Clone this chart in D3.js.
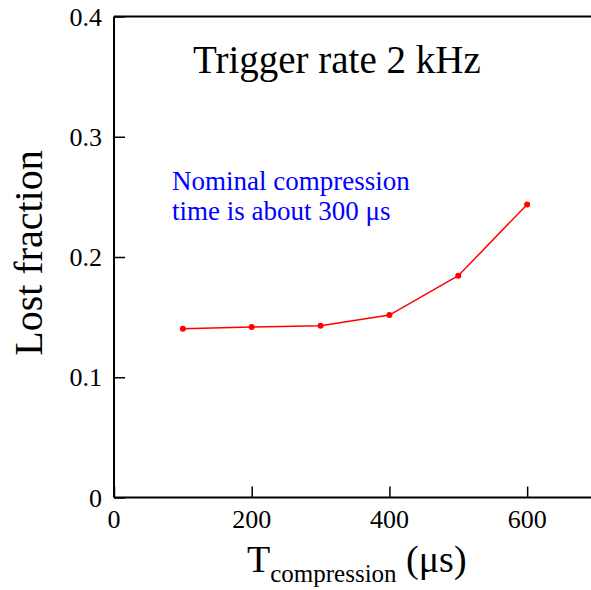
<!DOCTYPE html>
<html>
<head>
<meta charset="utf-8">
<script src="https://cdn.jsdelivr.net/npm/d3@7"></script>
<style>
  body { margin: 0; background: #fff; }
  text { font-family: "Liberation Serif", "DejaVu Serif", serif; }
</style>
</head>
<body>
<div id="chart"></div>
<script>
// data
var tComp = [100, 200, 300, 400, 500, 600];
var lostFrac = [0.1403, 0.1417, 0.1428, 0.1517, 0.1844, 0.2437];
var xTicks = [0, 200, 400, 600];
var yTicks = [0, 0.1, 0.2, 0.3, 0.4];

var W = 591, H = 590;
var svg = d3.select("#chart").append("svg").attr("width", W).attr("height", H);

var x = d3.scaleLinear().domain([0, 700]).range([114, 596]);
var y = d3.scaleLinear().domain([0, 0.4]).range([497.5, 16.5]);

// frame
svg.append("line").attr("x1", x(0)).attr("x2", W).attr("y1", y(0)).attr("y2", y(0))
  .attr("stroke", "black").attr("stroke-width", 2);
svg.append("line").attr("x1", x(0)).attr("x2", W).attr("y1", y(0.4)).attr("y2", y(0.4))
  .attr("stroke", "black").attr("stroke-width", 2);
svg.append("line").attr("x1", x(0)).attr("x2", x(0)).attr("y1", y(0)).attr("y2", y(0.4))
  .attr("stroke", "black").attr("stroke-width", 2);

// ticks (inward)
var xAxis = d3.axisTop(x).tickValues(xTicks).tickSize(11).tickFormat("");
var gx = svg.append("g").attr("transform", "translate(0," + y(0) + ")").call(xAxis);
gx.select(".domain").remove();
gx.selectAll("line").attr("stroke-width", 1.5);

var yAxis = d3.axisRight(y).tickValues(yTicks).tickSize(11).tickFormat("");
var gy = svg.append("g").attr("transform", "translate(" + x(0) + ",0)").call(yAxis);
gy.select(".domain").remove();
gy.selectAll("line").attr("stroke-width", 1.5);

// tick labels
svg.selectAll(".xlab").data(xTicks).enter().append("text")
  .attr("x", function(d){ return x(d); })
  .attr("y", 528)
  .attr("text-anchor", "middle")
  .attr("font-size", 26)
  .text(function(d){ return d; });

svg.selectAll(".ylab").data(yTicks).enter().append("text")
  .attr("x", 102)
  .attr("y", function(d){ return y(d) + 9; })
  .attr("text-anchor", "end")
  .attr("font-size", 26)
  .text(function(d){ return d === 0 ? "0" : d.toFixed(1); });

// line and dots
var pts = tComp.map(function(t, i){ return [t, lostFrac[i]]; });
var line = d3.line().x(function(d){ return x(d[0]); }).y(function(d){ return y(d[1]); });
svg.append("path").datum(pts).attr("d", line)
  .attr("fill", "none").attr("stroke", "red").attr("stroke-width", 1.5);
svg.selectAll(".dot").data(pts).enter().append("circle")
  .attr("cx", function(d){ return x(d[0]); })
  .attr("cy", function(d){ return y(d[1]); })
  .attr("r", 3).attr("fill", "red");

// title
svg.append("text").attr("x", 193).attr("y", 73).attr("font-size", 39)
  .text("Trigger rate 2 kHz");

// note
svg.append("text").attr("x", 172).attr("y", 190).attr("font-size", 27).attr("fill", "blue")
  .text("Nominal compression");
svg.append("text").attr("x", 172).attr("y", 220).attr("font-size", 27).attr("fill", "blue")
  .text("time is about 300 \u03bcs");

// axis titles
svg.append("text").attr("transform", "translate(42,253) rotate(-90)")
  .attr("text-anchor", "middle").attr("font-size", 40)
  .text("Lost fraction");

var xt = svg.append("text").attr("x", 247).attr("y", 572).attr("font-size", 38);
xt.append("tspan").text("T");
xt.append("tspan").attr("font-size", 25).attr("dy", 10).text("compression");
xt.append("tspan").attr("dy", -10).text(" (\u03bcs)");
</script>
</body>
</html>
